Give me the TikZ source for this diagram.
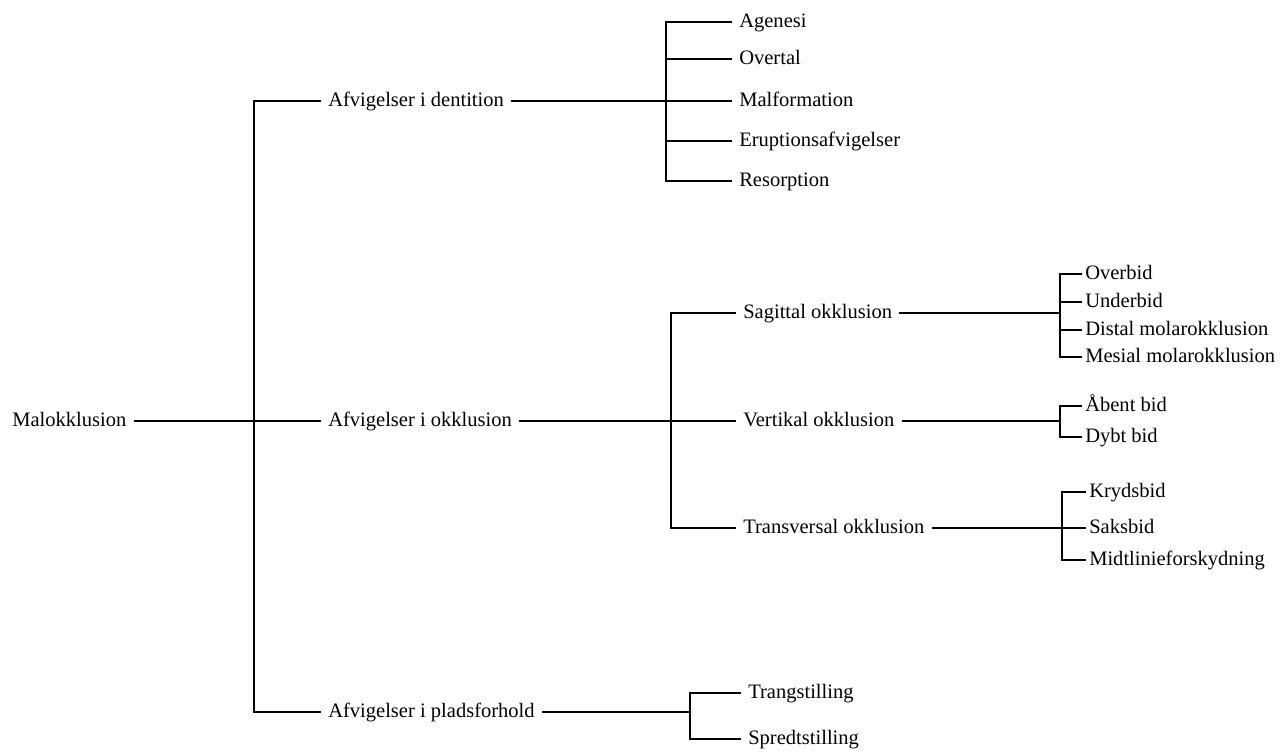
\documentclass[tikz,border=0pt]{standalone}
\usepackage{fontspec}
\setmainfont{Liberation Serif}
\begin{document}
\begin{tikzpicture}[x=0.75pt,y=-0.75pt,line width=0.9pt,
    lbl/.style={anchor=west,inner xsep=5pt,inner ysep=0pt,text height=0.9em,text depth=0.06em,font=\fontsize{15.4}{18}\selectfont},
    leaf/.style={lbl,inner xsep=2pt}]
    \useasboundingbox (0,0) rectangle (1285,751);
    % root and first level
    \node[lbl] (mal) at (5,421) {Malokklusion};
    \node[lbl] (dent) at (321,101) {Afvigelser i dentition};
    \node[lbl] (okk) at (321,421) {Afvigelser i okklusion};
    \node[lbl] (plads) at (321,712) {Afvigelser i pladsforhold};
    \coordinate (t0) at (254,421);
    \draw (mal) -- (okk);
    \draw (dent.west) -- (dent.west -| t0) |- (plads.west);
    % dentition
    \foreach \n/\t/\y in {agen/Agenesi/22,overt/Overtal/59,malf/Malformation/101,erup/Eruptionsafvigelser/141,resor/Resorption/181}
        \node[lbl] (\n) at (732,\y) {\t};
    \coordinate (t1) at (666,101);
    \draw (dent) -- (malf);
    \draw (agen.west) -| (t1) |- (resor.west);
    \foreach \n in {overt,erup} \draw (\n.west) -- (\n.west -| t1);
    % okklusion
    \foreach \n/\t/\y in {sag/Sagittal okklusion/313,vert/Vertikal okklusion/421,trans/Transversal okklusion/528}
        \node[lbl] (\n) at (736,\y) {\t};
    \coordinate (t2) at (671,421);
    \draw (okk) -- (vert);
    \draw (sag.west) -| (t2) |- (trans.west);
    % sagittal
    \foreach \n/\t/\y in {overb/Overbid/274,underb/Underbid/302,distal/Distal molarokklusion/330,mesial/Mesial molarokklusion/357}
        \node[leaf] (\n) at (1082,\y) {\t};
    \coordinate (t3) at (1060,313);
    \draw (sag) -- (t3);
    \draw (overb.west) -| (t3) |- (mesial.west);
    \foreach \n in {underb,distal} \draw (\n.west) -- (\n.west -| t3);
    % vertikal
    \node[leaf] (aaben) at (1082,406) {Åbent bid};
    \node[leaf] (dybt) at (1082,437) {Dybt bid};
    \coordinate (t4) at (1060,421);
    \draw (vert) -- (t4);
    \draw (aaben.west) -| (t4) |- (dybt.west);
    % transversal
    \foreach \n/\t/\y in {kryds/Krydsbid/492,saks/Saksbid/528,midt/Midtlinieforskydning/560}
        \node[leaf] (\n) at (1086,\y) {\t};
    \coordinate (t5) at (1062,528);
    \draw (trans) -- (saks);
    \draw (kryds.west) -| (t5) |- (midt.west);
    % pladsforhold
    \node[lbl] (trang) at (741,693) {Trangstilling};
    \node[lbl] (spredt) at (741,739) {Spredtstilling};
    \coordinate (t6) at (690,712);
    \draw (plads) -- (t6);
    \draw (trang.west) -| (t6) |- (spredt.west);
\end{tikzpicture}
\end{document}
